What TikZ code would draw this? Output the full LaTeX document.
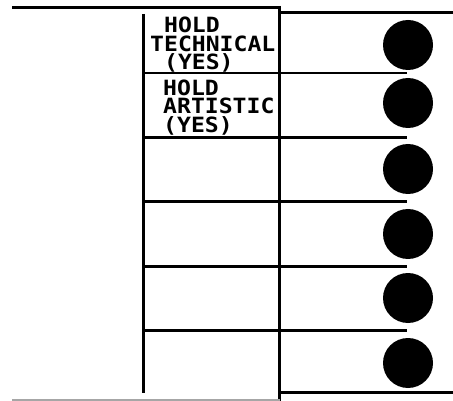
\documentclass[tikz,border=0pt]{standalone}
\usepackage{fontspec}
\newfontfamily\monob{DejaVu Sans Mono Bold}[FakeStretch=1.1]
\begin{document}
\begin{tikzpicture}[x=1pt,y=-1pt,
  rule/.style={line width=3pt,black},
  divider/.style={line width=2.6pt,black},
  thin/.style={line width=1.3pt,black!35},
  dot/.style={circle,fill=black,minimum size=50pt,inner sep=0pt},
  lbl/.style={font=\monob\fontsize{21}{18.5}\selectfont,inner sep=0pt,anchor=north west,align=left}]
\useasboundingbox (0,0) rectangle (453,401);
% frame lines
\draw[rule] (12,7.5) -- (281,7.5);
\draw[rule] (281,13) -- (453,13);
\draw[rule] (279.5,6) -- (279.5,401);
\draw[rule] (143,14) -- (143,393);
\draw[rule] (279.5,392) -- (453,392);
\draw[thin] (12,400) -- (279.5,400);
% row dividers
\foreach \y in {73,137.5,201.5,266.5,330.5}
  \draw[divider] (143,\y) -- (407,\y);
% dots
\node[dot] (d1) at (408,45) {};
\node[dot] (d2) at (408,103) {};
\node[dot] (d3) at (408,169) {};
\node[dot] (d4) at (408,234) {};
\node[dot] (d5) at (408,298) {};
\node[dot] (d6) at (408,363) {};
% labels
\node[lbl] (t1) at (150,17.2) {\hphantom{T}HOLD\\TECHNICAL\\\hphantom{T}(YES)};
\node[lbl] (t2) at (163,79.5) {HOLD\\ARTISTIC\\(YES)};
\end{tikzpicture}
\end{document}
